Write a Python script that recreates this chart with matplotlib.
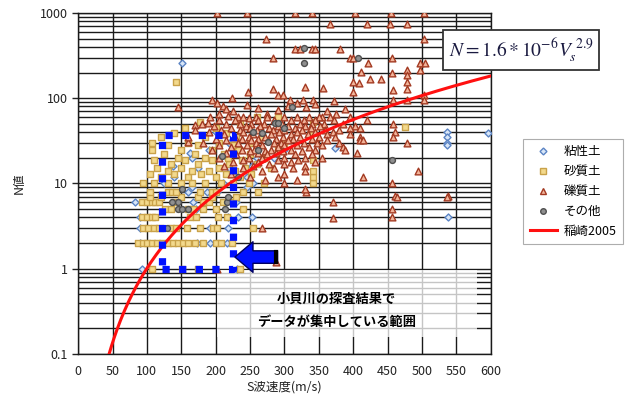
import numpy as np
import matplotlib
matplotlib.use('Agg')
import matplotlib.pyplot as plt
from matplotlib.lines import Line2D
from matplotlib.patches import Rectangle
from matplotlib.ticker import FixedLocator, NullFormatter

plt.rcParams['font.family'] = ['Noto Sans CJK JP', 'DejaVu Sans']
plt.rcParams['mathtext.fontset'] = 'stix'

# --- data: (Vs [m/s], N) ---
# 礫質土 (gravel)
gravel_vs = [202, 245, 315, 340, 403, 455, 503,
             366, 420, 453, 478, 273, 503,
             315, 323, 340, 344, 381, 283, 395, 400, 456,
             422, 497, 504, 412, 497, 478, 456, 478,
             440, 424, 400, 409, 478, 247, 400, 330, 356, 458, 478, 283,
             503, 291, 298, 195, 224, 308, 327, 341, 503, 458, 478,
             145, 245, 202, 210, 215, 225, 205, 218, 232, 248, 262, 275, 290,
             305, 318, 345, 362, 375, 388, 372, 332, 354, 170, 189, 160,
             192, 240, 258, 275, 300, 318, 335, 350, 366, 395,
             205, 228, 262, 285, 310, 328, 345, 372, 420,
             180, 215, 236, 252, 270, 296, 322, 340, 358, 385, 458,
             198, 244, 265, 290, 305, 330, 352, 402,
             222, 250, 278, 315, 338, 395, 410,
             170, 208, 235, 260, 283, 300, 326, 359, 380,
             190, 240, 268, 292, 318, 345, 370, 461,
             212, 255, 280, 310, 334, 362, 395,
             160, 228, 248, 272, 298, 322, 350, 373, 458, 410,
             200, 238, 262, 288, 312, 340,
             215, 252, 276, 305, 362, 410, 414,
             182, 232, 258, 285, 295, 328, 348, 380, 478,
             205, 245, 268, 300, 318, 355,
             222, 262, 290, 335, 385,
             195, 238, 256, 280, 310, 345, 388,
             250, 272, 298, 325,
             215, 262, 288, 405,
             230, 275, 315, 340,
             205, 248, 268, 300, 330, 355,
             240, 290, 320, 225, 262, 310, 345,
             278, 300, 212, 255, 330, 240, 285, 312,
             268, 330, 494, 222, 300, 250, 290, 414, 272, 318, 300, 456,
             371, 371, 461, 456, 456, 538, 331, 330, 463, 536, 288, 267, 202]
gravel_n = [1000, 1000, 1000, 1000, 1000, 1000, 1000,
            740, 740, 740, 740, 495, 495,
            380, 380, 380, 380, 380, 296, 296, 296, 296,
            259, 259, 259, 204, 214, 214, 197, 187,
            168, 168, 155, 150, 155, 118, 118, 136, 132, 125, 128, 128,
            110, 110, 110, 95, 100, 95, 95, 95, 95, 95, 95,
            79, 83, 88, 80, 75, 70, 65, 62, 60, 58, 76, 66, 72,
            80, 88, 86, 70, 66, 74, 92, 78, 60, 49, 51, 31,
            60, 60, 60, 60, 60, 60, 60, 60, 60, 60,
            55, 55, 55, 55, 55, 55, 55, 55, 55,
            50, 50, 50, 50, 50, 50, 50, 50, 50, 50, 50,
            47, 47, 47, 47, 47, 47, 47, 47,
            45, 45, 45, 45, 45, 45, 45,
            42, 42, 42, 42, 42, 42, 42, 42, 42,
            40, 40, 40, 40, 40, 40, 40, 40,
            38, 38, 38, 38, 38, 38, 38,
            35, 35, 35, 35, 35, 35, 35, 35, 35, 35,
            33, 33, 33, 33, 33, 33,
            32, 32, 32, 32, 32, 32, 32,
            30, 30, 30, 30, 30, 30, 30, 30, 30,
            28, 28, 28, 28, 28, 28,
            27, 27, 27, 27, 27,
            25, 25, 25, 25, 25, 25, 25,
            24, 24, 24, 24,
            23, 23, 23, 23,
            22, 22, 22, 22,
            20, 20, 20, 20, 20, 20,
            19, 19, 19, 18, 18, 18, 18,
            17, 17, 16, 16, 16, 15, 15, 15,
            14, 14, 14, 13, 13, 12, 12, 12, 11, 11, 10, 10,
            6.1, 3.95, 7.1, 5.0, 4.0, 7.1, 7.9, 8.5, 7, 7, 1.2, 3, 1.0]

# 砂質土 (sand)
sand_vs = [107, 151, 175, 236,
           87, 95, 100, 107, 115, 122, 130, 138, 145, 152, 160, 170, 182, 200, 208, 224,
           95, 102, 110, 118, 135, 142, 158, 177, 196, 202, 254,
           93, 100, 107, 112, 163, 172, 203, 216,
           126, 135, 160, 167, 182, 200, 240,
           93, 100, 107, 112, 118, 140, 182, 190, 210, 225,
           105, 120, 150, 175, 195, 230,
           105, 131, 137, 142, 177, 194, 200, 240, 262,
           95, 110, 130, 150, 165, 185, 208, 225, 248, 270, 341,
           120, 160, 200, 235, 341,
           105, 140, 178, 215, 252,
           130, 165, 190, 228, 341,
           115, 150, 205, 242, 280,
           135, 175, 220, 260,
           110, 155, 195, 238, 341,
           145, 185, 218, 270,
           125, 170, 212, 250,
           107, 150, 195, 232, 290,
           130, 175, 225,
           107, 160, 205, 250, 300,
           120, 185, 230, 268,
           341, 140, 215, 155, 200, 475, 177, 341, 235, 260, 290, 142]
sand_n = [1, 1, 1, 1,
          2, 2, 2, 2, 2, 2, 2, 2, 2, 2, 2, 2, 2, 2, 2, 2,
          3, 3, 3, 3, 3, 3, 3, 3, 3, 3, 3,
          4, 4, 4, 4, 4, 4, 4, 4,
          5, 5, 5, 5, 5, 5, 5,
          6, 6, 6, 6, 6, 6, 6, 6, 6, 6,
          7, 7, 7, 7, 7, 7,
          8, 8, 8, 8, 8, 8, 8, 8, 8,
          10, 10, 10, 10, 10, 10, 10, 10, 10, 10, 10,
          12, 12, 12, 12, 12,
          13, 13, 13, 13, 13,
          14, 14, 14, 14, 14,
          15, 15, 15, 15, 15,
          17, 17, 17, 17,
          19, 19, 19, 19, 19,
          20, 20, 20, 20,
          22, 22, 22, 22,
          25, 25, 25, 25, 25,
          28, 28, 28,
          30, 30, 30, 30, 30,
          35, 35, 35, 35,
          39, 39, 39, 45, 45, 46, 53, 53, 53, 60, 60, 155]

# 粘性土 (clay)
clay_vs = [151, 596, 536, 536, 536, 536, 538, 373,
           93, 231, 90, 173, 192, 216, 90, 192, 218, 90, 218, 232, 253,
           172, 83, 167, 230, 160, 187, 202, 165, 125, 210, 255, 140, 245,
           175, 220, 165, 260, 285, 190, 300, 220, 200, 163, 138, 253, 245]
clay_n = [259, 39, 40, 35, 30, 28, 4, 26,
          1, 1, 2, 2, 2, 2, 3, 3, 3, 4, 4, 4, 4,
          5, 6, 6, 6, 8, 8, 8, 9, 10, 10, 10, 12, 12,
          15, 15, 20, 20, 20, 25, 25, 30, 40, 23, 16, 16, 9]

# その他 (other)
other_vs = [328, 328, 407, 456, 124, 129, 145, 151, 160, 214, 145, 216,
            151, 209, 254, 267, 276, 286, 291, 311, 218, 137, 232, 262, 300]
other_n = [390, 259, 296, 19, 3, 3, 5, 5, 5, 5, 6, 6,
           8.7, 21, 40, 39, 31, 51, 51, 79, 7, 6, 12, 25, 45]

# 稲崎2005 : N = a * Vs^b
coef_a = 1.6e-6
coef_b = 2.9

# range of 小貝川 survey (dotted box)
box_vs = [122, 225]
box_n = [1.0, 37]

fig = plt.figure(figsize=(6.3, 4.05), dpi=100)
ax = fig.add_axes([0.124, 0.126, 0.655, 0.842])
ax.set_yscale('log')
ax.set_xlim(0, 600)
ax.set_ylim(0.1, 1000)

ax.xaxis.set_major_locator(FixedLocator(np.arange(0, 601, 50)))
ax.yaxis.set_major_locator(FixedLocator([0.1, 1, 10, 100, 1000]))
ax.set_yticklabels(['0.1', '1', '10', '100', '1000'])
minors = [m * 10.0 ** e for e in range(-1, 3) for m in range(2, 10)]
ax.yaxis.set_minor_locator(FixedLocator(minors))
ax.yaxis.set_minor_formatter(NullFormatter())
ax.tick_params(axis='y', which='major', length=4, width=1, labelsize=9, colors='#222222')
ax.tick_params(axis='y', which='minor', length=0)
ax.tick_params(axis='x', length=0, labelsize=9, pad=8, colors='#222222')
ax.grid(True, which='both', axis='y', color='#1a1a1a', lw=1.0)
ax.grid(True, which='major', axis='x', color='#1a1a1a', lw=1.0)
ax.set_axisbelow(True)
for s in ax.spines.values():
    s.set_color('#1a1a1a')
    s.set_linewidth(1.0)

ms = 18
ax.scatter(clay_vs, clay_n, marker='D', s=ms * 0.7, facecolor='#d8e6f7',
           edgecolor='#5b84c4', linewidth=1.0, zorder=3)
ax.scatter(sand_vs, sand_n, marker='s', s=ms, facecolor='#f3d98c',
           edgecolor='#c9a24a', linewidth=1.0, zorder=3)
ax.scatter(gravel_vs, gravel_n, marker='^', s=ms * 1.3, facecolor='#f2b49a',
           edgecolor='#a33a22', linewidth=1.0, zorder=3)
ax.scatter(other_vs, other_n, marker='o', s=ms, facecolor='#8f8f8f',
           edgecolor='#4f4f4f', linewidth=1.0, zorder=3)

vs = np.linspace(45, 600, 300)
ax.plot(vs, coef_a * vs ** coef_b, color='#ff1010', lw=2.2, zorder=4)

# survey range box
bx = [box_vs[0], box_vs[1], box_vs[1], box_vs[0], box_vs[0]]
by = [box_n[0], box_n[0], box_n[1], box_n[1], box_n[0]]
ax.plot(bx, by, color='#0010ff', lw=5.2, linestyle=(0, (1, 1.3)), zorder=5)

# arrow pointing at box
ax.annotate('', xy=(228, 1.37), xytext=(290, 1.37),
            arrowprops=dict(facecolor='#0010ff', edgecolor='#000060', width=9,
                            headwidth=22, headlength=13, shrink=0), zorder=6)
ax.plot([288, 288], [1.2, 1.56], color='black', lw=3, zorder=6)

# white note area
ax.add_patch(Rectangle((202, 0.158), 378, 0.82, facecolor='white', alpha=0.75,
                       edgecolor='none', zorder=2))
ax.text(376, 0.45, '小貝川の探査結果で', ha='center', va='center', fontsize=9.5,
        fontweight='bold', zorder=6)
ax.text(376, 0.237, 'データが集中している範囲', ha='center', va='center', fontsize=9.5,
        fontweight='bold', zorder=6)

ax.set_xlabel('S波速度(m/s)', fontsize=9, color='#222222', labelpad=2)
ax.set_ylabel('N値', fontsize=9, color='#222222', labelpad=10)

fig.text(0.827, 0.877, r'$N = 1.6 * 10^{-6}V_s^{\ 2.9}$', fontsize=14,
         ha='center', va='center', color='#1a1a40',
         bbox=dict(boxstyle='square,pad=0.3', facecolor='white', edgecolor='#333333', lw=1.3))

handles = [
    Line2D([], [], marker='D', ls='none', markersize=3.5, markerfacecolor='#d8e6f7', markeredgecolor='#5b84c4'),
    Line2D([], [], marker='s', ls='none', markersize=4, markerfacecolor='#f3d98c', markeredgecolor='#c9a24a'),
    Line2D([], [], marker='^', ls='none', markersize=4.5, markerfacecolor='#f2b49a', markeredgecolor='#a33a22'),
    Line2D([], [], marker='o', ls='none', markersize=4, markerfacecolor='#8f8f8f', markeredgecolor='#4f4f4f'),
    Line2D([], [], color='#ff1010', lw=2.2),
]
labels = ['粘性土', '砂質土', '礫質土', 'その他', '稲崎2005']
leg = fig.legend(handles, labels, loc='upper left', bbox_to_anchor=(0.821, 0.672),
                 fontsize=9, frameon=True, fancybox=False, edgecolor='#999999',
                 handlelength=2.2, labelspacing=0.55, borderpad=0.5, handletextpad=0.5)
leg.get_frame().set_linewidth(0.8)

fig.savefig('out.png', dpi=100)
